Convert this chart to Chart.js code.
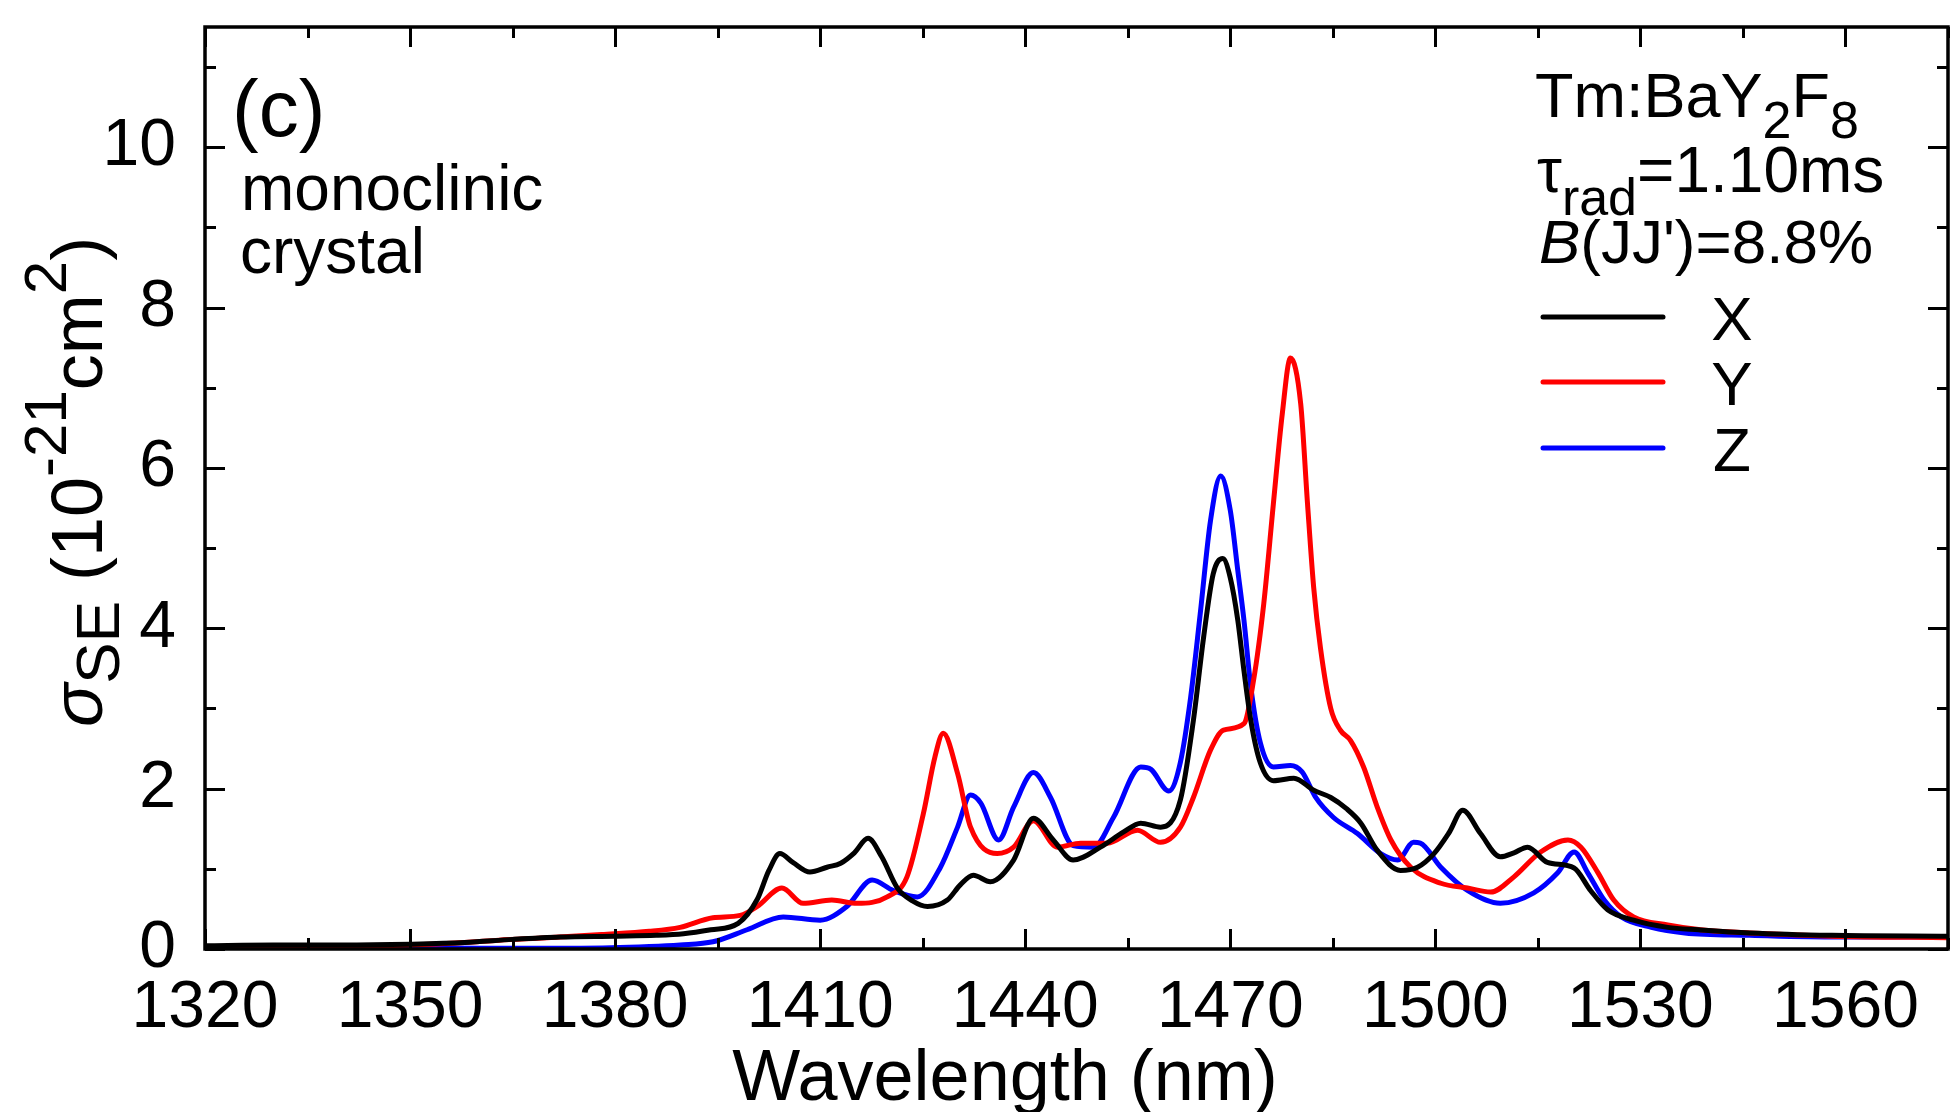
<!DOCTYPE html>
<html>
<head>
<meta charset="utf-8">
<title>Tm:BaY2F8 stimulated emission cross-section</title>
<script src="https://cdn.jsdelivr.net/npm/chart.js@4.4.1/dist/chart.umd.min.js"></script>
<style>
  html, body { margin: 0; padding: 0; background: #fff; }
  #wrap { width: 1952px; height: 1112px; }
</style>
</head>
<body>
<div id="wrap"><canvas id="chart" width="1952" height="1112"></canvas></div>
<script>
const FONT = '"Liberation Sans", Arial, Helvetica, sans-serif';

// --- data (wavelength in nm, sigma_SE in 1e-21 cm^2) ---
const seriesNames = ['X', 'Y', 'Z'];
const seriesColors = ['#000000', '#ff0000', '#0000ff'];

const wavelengthX = [1320, 1330, 1340, 1350, 1358, 1365, 1372, 1380, 1386, 1390, 1394, 1398,
  1400.8, 1402.5, 1404.1, 1406, 1408.5, 1411, 1413, 1415, 1417, 1419, 1421.3, 1423.5, 1425.7,
  1428.6, 1430.5, 1432.4, 1434.9, 1438.3, 1441.2, 1444.1, 1447, 1451, 1454.4, 1456.9, 1459.8,
  1462.7, 1464.6, 1466.1, 1467.5, 1468.9, 1470, 1471.1, 1472, 1473, 1474.4, 1476.3, 1479.3,
  1482.2, 1484.7, 1487, 1489.1, 1491.5, 1494.9, 1497.4, 1499.8, 1502, 1504, 1506.6, 1509.5,
  1511.5, 1513.5, 1516.4, 1520.3, 1522.7, 1525.2, 1529, 1534, 1538.5, 1546, 1558, 1575];
const sigmaX = [0.04, 0.05, 0.05, 0.06, 0.08, 0.12, 0.15, 0.16, 0.17, 0.19, 0.24, 0.32,
  0.62, 0.98, 1.19, 1.08, 0.96, 1.02, 1.07, 1.2, 1.38, 1.15, 0.76, 0.6, 0.53,
  0.61, 0.8, 0.92, 0.84, 1.11, 1.63, 1.36, 1.11, 1.27, 1.46, 1.57, 1.52,
  1.86, 2.85, 3.89, 4.68, 4.87, 4.63, 4.1, 3.47, 2.85, 2.32, 2.1, 2.13,
  1.98, 1.89, 1.75, 1.57, 1.23, 0.98, 1.02, 1.19, 1.45, 1.73, 1.44, 1.15,
  1.2, 1.27, 1.08, 1.01, 0.73, 0.49, 0.36, 0.27, 0.24, 0.2, 0.17, 0.16];

const wavelengthY = [1320, 1335, 1350, 1358, 1363, 1370, 1378, 1385, 1389.5, 1394.3, 1398.3,
  1400.8, 1404.4, 1407.5, 1411.7, 1415.4, 1419.8, 1422.7, 1425.1, 1426.8, 1428, 1430.1, 1432,
  1435.9, 1438.3, 1441.2, 1444.7, 1448.1, 1452, 1456.4, 1459.8, 1462.7, 1464.6, 1467.1, 1469,
  1472, 1473.4, 1474.9, 1476.3, 1477.6, 1478.8, 1480.3, 1481.3, 1482.2, 1483.2, 1484.7, 1486.1,
  1487.6, 1489.5, 1491.5, 1493.5, 1496.4, 1500.8, 1504.7, 1508.1, 1511.5, 1515.4, 1519.4,
  1521.3, 1523.8, 1526.1, 1529, 1534, 1538.8, 1546, 1558, 1575];
const sigmaY = [0.02, 0.03, 0.05, 0.08, 0.11, 0.14, 0.18, 0.22, 0.27, 0.39, 0.42,
  0.53, 0.76, 0.57, 0.61, 0.57, 0.65, 0.9, 1.69, 2.4, 2.69, 2.19, 1.52,
  1.19, 1.27, 1.6, 1.27, 1.32, 1.32, 1.48, 1.33, 1.52, 1.89, 2.48, 2.73,
  2.81, 3.35, 4.31, 5.55, 6.67, 7.37, 6.8, 5.55, 4.51, 3.75, 3.0, 2.73,
  2.6, 2.27, 1.77, 1.36, 1.02, 0.82, 0.76, 0.71, 0.9, 1.21, 1.36,
  1.27, 0.95, 0.61, 0.4, 0.3, 0.24, 0.2, 0.16, 0.14];

const wavelengthZ = [1320, 1340, 1360, 1375, 1385, 1389.5, 1394.3, 1399.3, 1404.6, 1410,
  1413.9, 1417.6, 1420.7, 1424.2, 1427.6, 1430.1, 1432, 1433.5, 1436.1, 1438.3, 1441.2, 1443.7,
  1447, 1450, 1452.9, 1456.9, 1458.4, 1461, 1462.7, 1464.2, 1465.6, 1467.1, 1468.6, 1470,
  1471.1, 1472, 1473, 1474.4, 1476.3, 1478.8, 1480.5, 1482.5, 1485.1, 1488.6, 1492, 1494.5,
  1496.8, 1497.8, 1500.8, 1504.7, 1509.5, 1514.4, 1517.9, 1520.3, 1522.3, 1524.7, 1527.2,
  1531.6, 1536.5, 1546, 1558, 1575];
const sigmaZ = [0.02, 0.02, 0.01, 0.01, 0.03, 0.05, 0.09, 0.24, 0.4, 0.36,
  0.53, 0.86, 0.73, 0.65, 1.02, 1.52, 1.92, 1.82, 1.36, 1.77, 2.2, 1.89,
  1.29, 1.27, 1.64, 2.27, 2.24, 1.97, 2.33, 3.14, 4.18, 5.34, 5.9, 5.47,
  4.72, 4.1, 3.27, 2.57, 2.27, 2.29, 2.21, 1.89, 1.64, 1.44, 1.19, 1.11,
  1.33, 1.32, 1.02, 0.73, 0.57, 0.7, 0.95, 1.21, 0.95, 0.61, 0.4,
  0.27, 0.2, 0.17, 0.15, 0.15];

const wavelengths = [wavelengthX, wavelengthY, wavelengthZ];
const sigmas = [sigmaX, sigmaY, sigmaZ];

// axis ranges and tick labels
const X_MIN = 1320, X_MAX = 1575, X_MINOR = 15;
const Y_MIN = 0, Y_MAX = 11.5, Y_MINOR = 1;
const xTickLabels = [1320, 1350, 1380, 1410, 1440, 1470, 1500, 1530, 1560];
const yTickLabels = [0, 2, 4, 6, 8, 10];

function font(size, italic) {
  return (italic ? 'italic ' : '') + size + 'px ' + FONT;
}

// draws a run of text pieces [text, size, dy, italic] one after another
function drawRich(ctx, parts, x, y, align) {
  let total = 0;
  parts.forEach(p => { ctx.font = font(p[1], p[3]); total += ctx.measureText(p[0]).width; });
  let cx = align === 'center' ? x - total / 2 : x;
  parts.forEach(p => {
    ctx.font = font(p[1], p[3]);
    ctx.fillText(p[0], cx, y + (p[2] || 0));
    cx += ctx.measureText(p[0]).width;
  });
}

const framePlugin = {
  id: 'frame',
  afterDatasetsDraw(chart) {
    const { ctx, chartArea: a, scales: { x, y } } = chart;
    ctx.save();
    ctx.strokeStyle = '#000';
    ctx.lineWidth = 3;
    ctx.beginPath();
    for (let v = X_MIN; v <= X_MAX; v += X_MINOR) {
      const px = Math.round(x.getPixelForValue(v)) + 0.5;
      const len = (v - X_MIN) % 30 === 0 ? 20 : 11;
      ctx.moveTo(px, a.bottom); ctx.lineTo(px, a.bottom - len);
      ctx.moveTo(px, a.top); ctx.lineTo(px, a.top + len);
    }
    for (let v = Y_MIN; v <= Y_MAX; v += Y_MINOR) {
      const py = Math.round(y.getPixelForValue(v)) + 0.5;
      const len = v % 2 === 0 ? 20 : 11;
      ctx.moveTo(a.left, py); ctx.lineTo(a.left + len, py);
      ctx.moveTo(a.right, py); ctx.lineTo(a.right - len, py);
    }
    ctx.stroke();
    ctx.lineWidth = 3.5;
    ctx.strokeRect(a.left, a.top, a.right - a.left, a.bottom - a.top);
    ctx.restore();
  },
  afterDraw(chart) {
    const { ctx } = chart;
    ctx.save();
    ctx.fillStyle = '#000';
    ctx.textBaseline = 'alphabetic';
    ctx.textAlign = 'left';

    // panel label and crystal note
    ctx.font = font(80);
    ctx.fillText('(c)', 232, 136);
    ctx.font = font(64);
    ctx.fillText('monoclinic', 241, 210);
    ctx.fillText('crystal', 240, 273);

    // material info
    drawRich(ctx, [['Tm:BaY', 63], ['2', 52, 21], ['F', 63], ['8', 52, 21]], 1535, 117);
    drawRich(ctx, [['\u03c4', 63], ['rad', 52, 23], ['=1.10ms', 64]], 1537, 192);
    drawRich(ctx, [['B', 62, 0, true], ['(JJ\')=8.8%', 62]], 1539, 263);

    // legend
    const legendY = [317, 382, 448];
    chart.data.datasets.forEach((ds, i) => {
      ctx.strokeStyle = ds.borderColor;
      ctx.lineWidth = 5;
      ctx.lineCap = 'round';
      ctx.beginPath();
      ctx.moveTo(1543, legendY[i]);
      ctx.lineTo(1663, legendY[i]);
      ctx.stroke();
      ctx.font = font(62);
      ctx.textAlign = 'center';
      ctx.fillText(ds.label, 1732, legendY[i] + 23);
      ctx.textAlign = 'left';
    });

    // x axis title
    ctx.font = font(72);
    ctx.textAlign = 'center';
    ctx.fillText('Wavelength (nm)', 1005, 1100);
    ctx.textAlign = 'left';

    // y axis title (rotated)
    ctx.translate(102, 482);
    ctx.rotate(-Math.PI / 2);
    drawRich(ctx, [
      ['\u03c3', 72, 0, true], ['SE', 62, 17], [' (10', 72], ['-21', 60, -36],
      ['cm', 72], ['2', 60, -36], [')', 72]
    ], 0, 0, 'center');
    ctx.restore();
  }
};

new Chart(document.getElementById('chart'), {
  type: 'line',
  data: {
    datasets: seriesNames.map((name, i) => ({
      label: name,
      data: wavelengths[i].map((w, k) => ({ x: w, y: sigmas[i][k] })),
      borderColor: seriesColors[i],
      backgroundColor: seriesColors[i],
      borderWidth: 5,
      pointRadius: 0,
      cubicInterpolationMode: 'monotone',
      fill: false
    }))
  },
  options: {
    responsive: false,
    devicePixelRatio: 1,
    animation: false,
    layout: { padding: { left: 0, top: 27, right: 4, bottom: 0 } },
    plugins: {
      legend: { display: false },
      tooltip: { enabled: false }
    },
    scales: {
      x: {
        type: 'linear',
        min: X_MIN,
        max: X_MAX,
        grid: { display: false, drawTicks: false },
        border: { display: false },
        afterBuildTicks: s => { s.ticks = xTickLabels.map(v => ({ value: v })); },
        afterFit: s => { s.height = 163; s.paddingLeft = 0; s.paddingRight = 0; },
        ticks: {
          color: '#000',
          font: { family: FONT, size: 66 },
          padding: 20,
          autoSkip: false,
          maxRotation: 0,
          minRotation: 0,
          callback: v => String(v)
        }
      },
      y: {
        type: 'linear',
        min: Y_MIN,
        max: Y_MAX,
        grid: { display: false, drawTicks: false },
        border: { display: false },
        afterBuildTicks: s => { s.ticks = yTickLabels.map(v => ({ value: v })); },
        afterFit: s => { s.width = 205; s.paddingTop = 0; s.paddingBottom = 0; },
        ticks: {
          color: '#000',
          font: { family: FONT, size: 66 },
          padding: 29,
          callback: v => String(v)
        }
      }
    }
  },
  plugins: [framePlugin]
});
</script>
</body>
</html>
